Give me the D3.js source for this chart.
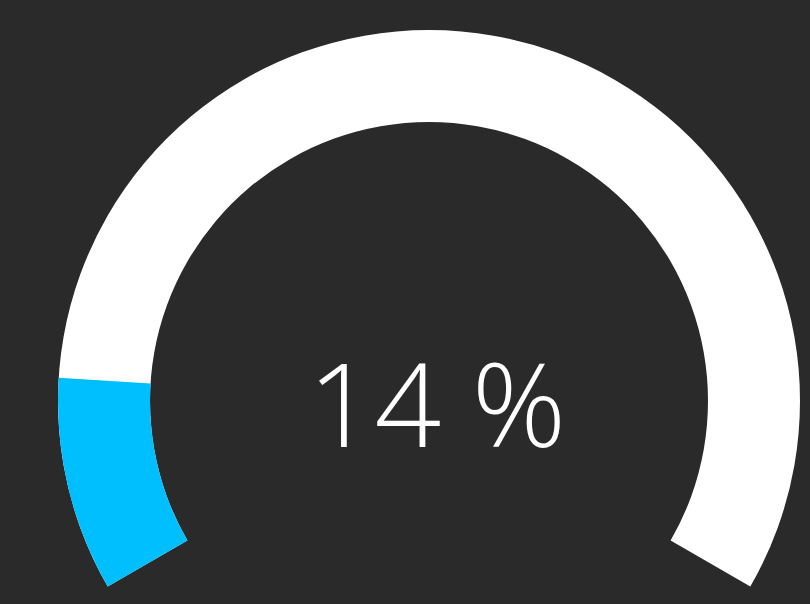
<!DOCTYPE html>
<meta charset="utf-8">
<script src="https://d3js.org/d3.v7.min.js"></script>
<style>
  body { margin: 0; background: #2a2a2a; }
</style>
<div id="gauge"></div>
<script>

// gauge data
var value = 14;          // percent
var domain = [0, 100];
var label = value + " %";

var width = 810, height = 604;
var cx = 429, cy = 401;
var outerR = 371, innerR = 279;

var svg = d3.select("#gauge")
  .append("svg")
    .attr("width", width)
    .attr("height", height)
  .append("g")
    .attr("transform", "translate(" + cx + "," + cy + ")");

// value -> angle, 240 degree sweep
var angle = d3.scaleLinear()
  .domain(domain)
  .range([-2 * Math.PI / 3, 2 * Math.PI / 3]);

var arc = d3.arc()
  .innerRadius(innerR)
  .outerRadius(outerR);

// background track
svg.append("path")
  .attr("d", arc({startAngle: angle(domain[0]), endAngle: angle(domain[1])}))
  .style("fill", "#ffffff");

// value arc
svg.append("path")
  .attr("d", arc({startAngle: angle(domain[0]), endAngle: angle(value)}))
  .style("fill", "#00bfff");

// label
svg.append("text")
  .attr("x", 8)
  .attr("y", 46)
  .attr("text-anchor", "middle")
  .style("font-family", "'Open Sans', sans-serif")
  .style("font-weight", 300)
  .style("font-size", "117px")
  .style("fill", "#ffffff")
  .text(label);

</script>
